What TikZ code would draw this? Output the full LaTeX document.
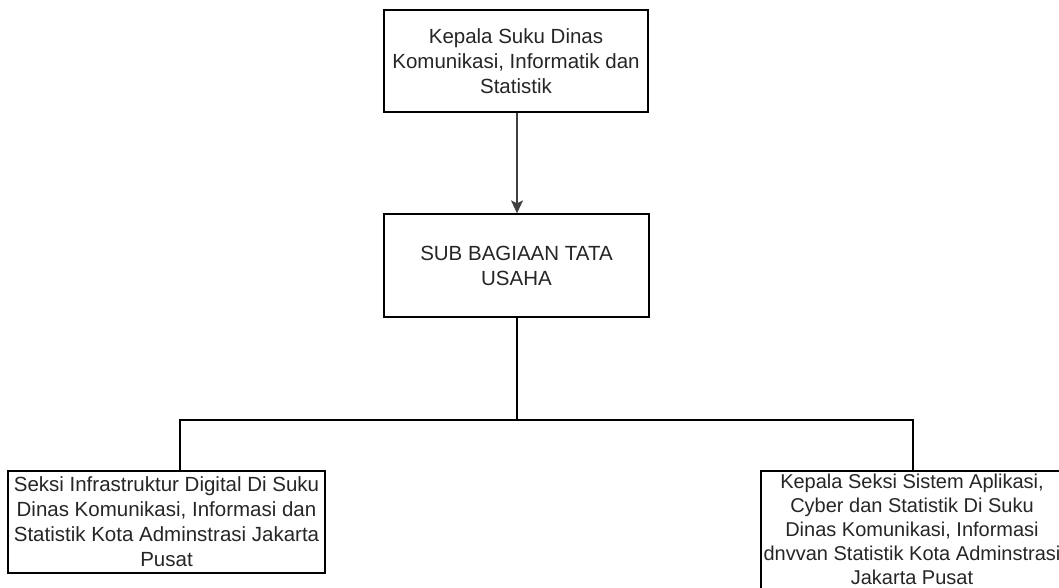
\documentclass[tikz,border=0pt]{standalone}
\usepackage{fontspec}
\setmainfont{Liberation Sans}
\usetikzlibrary{arrows.meta}
\tikzset{
  orgbox/.style={draw=black, line width=1.3pt, rectangle, inner sep=0pt, align=center,
    font=\fontsize{20.5}{25}\selectfont, text=black!85},
  orgtext/.style={inner sep=0pt, align=center, font=\fontsize{20}{24}\selectfont, text=black!85},
  conn/.style={draw=black, line width=1.3pt},
  arr/.style={draw=black!75, line width=1.3pt, -{Stealth[length=13pt,width=12pt,inset=3pt]}}
}
\begin{document}
\begin{tikzpicture}[x=1pt,y=-1pt]
\path[use as bounding box, clip] (0,0) rectangle (1059,588);
\fill[white] (0,0) rectangle (1059,588);
\node[orgbox, minimum width=264pt, minimum height=102pt] (top) at (516,61)
  {Kepala Suku Dinas\\Komunikasi, Informatik dan\\Statistik};
\node[orgbox, minimum width=265pt, minimum height=103pt] (mid) at (516.5,265.5)
  {SUB BAGIAAN TATA\\USAHA};
\node[orgbox, minimum width=317pt, minimum height=102pt] (left) at (166.5,522)
  {Seksi Infrastruktur Digital Di Suku\\Dinas Komunikasi, Informasi dan\\Statistik Kota Adminstrasi Jakarta\\Pusat};
\node[orgbox, minimum width=302pt, minimum height=128pt] (right) at (912,535) {};
\node[orgtext] (righttext) at (912,529)
  {Kepala Seksi Sistem Aplikasi,\\Cyber dan Statistik Di Suku\\Dinas Komunikasi, Informasi\\dnvvan Statistik Kota Adminstrasi\\Jakarta Pusat};
\coordinate (bus) at (517,420);
\coordinate (lin) at (180,471);
\coordinate (rin) at (913,471);
\draw[arr] (top.south -| 517,0) -- (mid.north -| 517,0);
\draw[conn] (mid.south -| bus) -- (bus);
\draw[conn] (lin) |- (bus) -| (rin);
\end{tikzpicture}
\end{document}
